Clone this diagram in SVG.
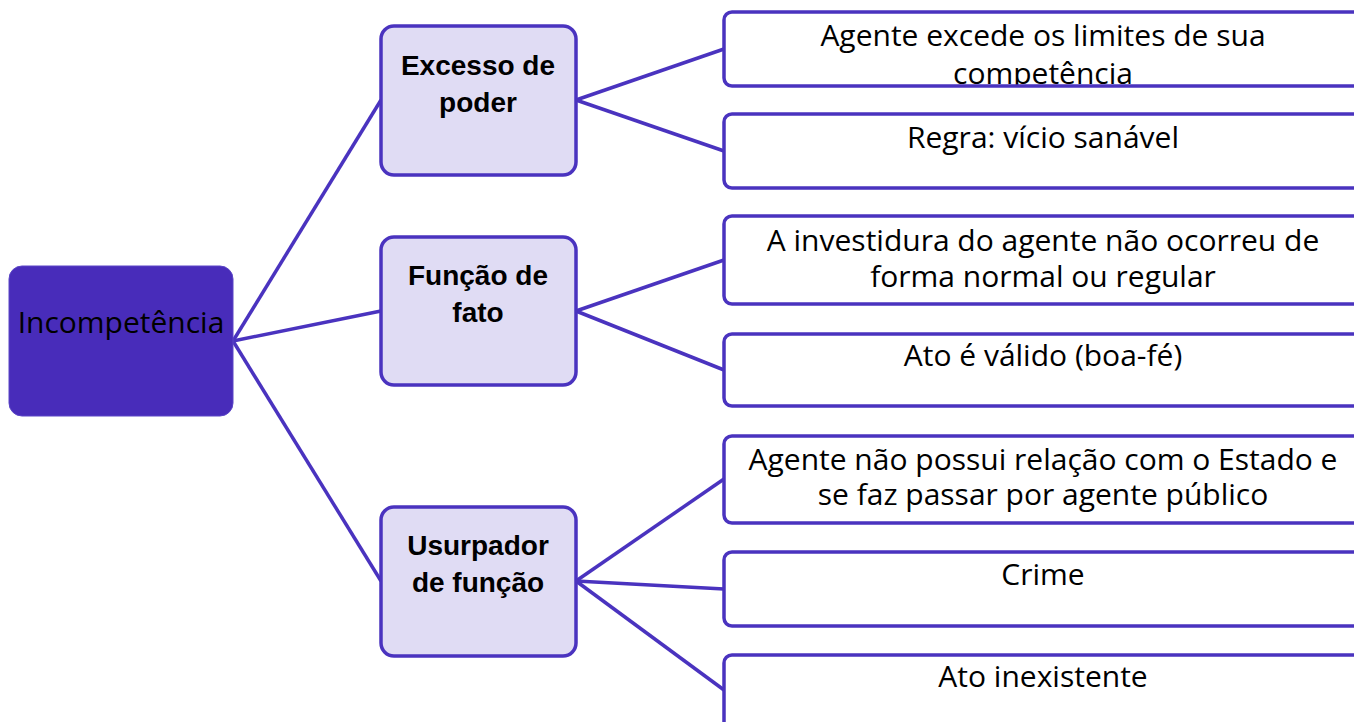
<svg xmlns="http://www.w3.org/2000/svg" width="1354" height="722" viewBox="0 0 1354 722">
<style>
.root{fill:#482cba;stroke:#5a44c6;stroke-width:1}
.mid{fill:#e0dcf4;stroke:#4a33bf;stroke-width:3.5}
.leaf{fill:#ffffff;stroke:#4a33bf;stroke-width:3.5}
.conn{stroke:#4a33bf;stroke-width:3.5;fill:none}
.t{font-family:"Open Sans","Liberation Sans",Arial,sans-serif;font-size:30px;fill:#000;text-anchor:middle}
.b{font-family:"Liberation Sans",Arial,sans-serif;font-size:28px;font-weight:bold;fill:#000;text-anchor:middle}
</style>
<defs>
<clipPath id="c1"><rect x="724" y="12" width="640" height="73"/></clipPath>
</defs>
<rect width="1354" height="722" fill="#ffffff"/>
<g id="connectors">
<line class="conn" x1="233" y1="341" x2="381" y2="100"/>
<line class="conn" x1="233" y1="341" x2="381" y2="311"/>
<line class="conn" x1="233" y1="341" x2="381" y2="581"/>
<line class="conn" x1="576" y1="100" x2="724" y2="49"/>
<line class="conn" x1="576" y1="100" x2="724" y2="151"/>
<line class="conn" x1="576" y1="311" x2="724" y2="260"/>
<line class="conn" x1="576" y1="311" x2="724" y2="370"/>
<line class="conn" x1="576" y1="581" x2="724" y2="479"/>
<line class="conn" x1="576" y1="581" x2="724" y2="589"/>
<line class="conn" x1="576" y1="581" x2="724" y2="690"/>
</g>
<g id="root">
<rect class="root" x="9" y="266" width="224" height="150" rx="13"/>
<text class="t" x="121" y="333">Incompetência</text>
</g>
<g id="excesso">
<rect class="mid" x="381" y="26" width="195" height="149" rx="13"/>
<text class="b" x="478" y="75">Excesso de</text>
<text class="b" x="478" y="112">poder</text>
</g>
<g id="funcao">
<rect class="mid" x="381" y="237" width="195" height="148" rx="13"/>
<text class="b" x="478" y="285">Função de</text>
<text class="b" x="478" y="322">fato</text>
</g>
<g id="usurpador">
<rect class="mid" x="381" y="507" width="195" height="149" rx="13"/>
<text class="b" x="478" y="555">Usurpador</text>
<text class="b" x="478" y="592">de função</text>
</g>
<g id="leaf1">
<g clip-path="url(#c1)">
<text class="t" x="1043" y="46">Agente excede os limites de sua</text>
<text class="t" x="1043" y="84">competência</text>
</g>
<rect class="leaf" x="724" y="12" width="650" height="74" rx="8" style="fill:none"/>
</g>
<g id="leaf2">
<rect class="leaf" x="724" y="114" width="650" height="74" rx="8"/>
<text class="t" x="1043" y="148">Regra: vício sanável</text>
</g>
<g id="leaf3">
<rect class="leaf" x="724" y="216" width="650" height="88" rx="8"/>
<text class="t" x="1043" y="251">A investidura do agente não ocorreu de</text>
<text class="t" x="1043" y="287">forma normal ou regular</text>
</g>
<g id="leaf4">
<rect class="leaf" x="724" y="334" width="650" height="72" rx="8"/>
<text class="t" x="1043" y="366">Ato é válido (boa-fé)</text>
</g>
<g id="leaf5">
<rect class="leaf" x="724" y="436" width="650" height="87" rx="8"/>
<text class="t" x="1043" y="470">Agente não possui relação com o Estado e</text>
<text class="t" x="1043" y="505">se faz passar por agente público</text>
</g>
<g id="leaf6">
<rect class="leaf" x="724" y="552" width="650" height="74" rx="8"/>
<text class="t" x="1043" y="585">Crime</text>
</g>
<g id="leaf7">
<rect class="leaf" x="724" y="655" width="650" height="80" rx="8"/>
<text class="t" x="1043" y="687">Ato inexistente</text>
</g>
</svg>
